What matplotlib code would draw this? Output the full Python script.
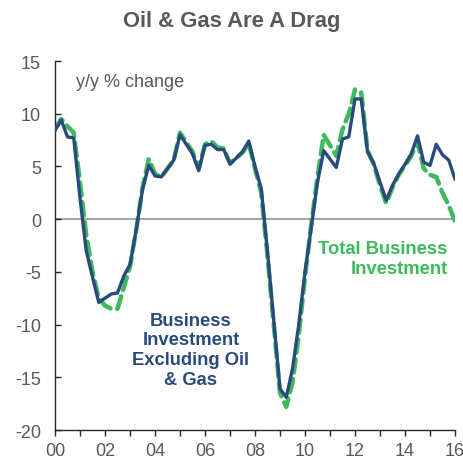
import matplotlib
matplotlib.use("Agg")
import matplotlib.pyplot as plt
import numpy as np

plt.rcParams['font.family'] = ['Liberation Sans', 'DejaVu Sans']

# Quarterly data, 2000Q1 .. 2016Q1
start_year = 2000
ex_oil_gas = [8.4, 9.4, 7.8, 7.7, 2.0, -3.0, -5.5, -7.9,
              -7.5, -7.1, -7.0, -5.4, -4.3, -1.0, 2.8, 5.1,
              4.1, 4.0, 4.8, 5.6, 8.0, 7.1, 6.2, 4.6,
              7.0, 7.1, 6.6, 6.6, 5.2, 5.8, 6.4, 7.4,
              5.0, 2.9, -3.1, -9.6, -16.1, -16.9, -14.2, -10.0,
              -5.0, -0.8, 3.5, 6.5, 5.7, 4.9, 7.6, 7.8,
              11.4, 11.4, 6.4, 5.3, 3.5, 1.8, 3.2, 4.3,
              5.2, 6.2, 7.9, 5.4, 5.1, 7.1, 6.1, 5.6, 3.8]
total = [8.6, 9.5, 8.8, 8.2, 3.5, -1.5, -5.0, -7.5,
         -8.2, -8.5, -8.5, -6.5, -4.5, -1.0, 3.0, 5.7,
         4.3, 4.0, 4.8, 5.6, 8.2, 7.3, 6.4, 4.8,
         7.1, 7.4, 6.8, 6.7, 5.3, 5.8, 6.3, 7.2,
         4.8, 2.5, -3.5, -10.0, -16.5, -17.8, -15.5, -11.0,
         -5.5, -0.5, 4.0, 8.0, 7.0, 6.0, 8.5, 10.0,
         12.3, 12.0, 6.5, 5.2, 3.2, 1.5, 3.0, 4.2,
         5.1, 6.0, 7.3, 4.8, 4.2, 4.0, 2.5, 1.3, -0.2]
x_ticklabels = ['00', '02', '04', '06', '08', '10', '12', '14', '16']
y_ticks = [15, 10, 5, 0, -5, -10, -15, -20]

navy = '#284b7c'
green = '#3cba5c'
grey = '#595959'

x = start_year + np.arange(len(total)) / 4.0

fig = plt.figure(figsize=(4.63, 4.60), dpi=100)
ax = fig.add_axes([55/463, 1 - 431/460, 400/463, (431 - 62)/460])

ax.axhline(0, color='#a6a6a6', lw=1.5, zorder=1)
ax.plot(x, total, color=green, lw=3.2, dashes=(3.0, 1.5), zorder=2,
        dash_capstyle='round')
ax.plot(x, ex_oil_gas, color=navy, lw=2.4, zorder=3)

ax.set_xlim(2000, 2016)
ax.set_ylim(-20, 15)
ax.set_xticks(np.arange(2000, 2017, 2))
ax.set_xticklabels(x_ticklabels)
ax.set_xticks(np.arange(2000, 2017, 1), minor=True)
ax.set_yticks(y_ticks)
ax.set_yticklabels([str(v) for v in y_ticks])

for s in ['top', 'right']:
    ax.spines[s].set_visible(False)
for s in ['left', 'bottom']:
    ax.spines[s].set_color('#262626')
    ax.spines[s].set_linewidth(1.0)

ax.tick_params(axis='x', which='both', direction='out', length=4, width=1,
               color='#262626', labelsize=13, labelcolor=grey, pad=5)
ax.tick_params(axis='y', which='both', direction='in', length=4, width=1,
               color='#262626', labelsize=13, labelcolor=grey, pad=10)

ax.text(2000.84, 13.1, 'y/y % change', color=grey, fontsize=13,
        ha='left', va='center')
ax.text(2005.44, -12.4, 'Business\nInvestment\nExcluding Oil\n& Gas', color=navy,
        fontsize=13.2, fontweight='bold', ha='center', va='center', linespacing=1.22)
ax.text(2015.7, -3.75, 'Total Business\nInvestment', color=green,
        fontsize=13.2, fontweight='bold', ha='right', va='center', linespacing=1.22)

fig.text(0.5, 1 - 21/460, 'Oil & Gas Are A Drag', color=grey, fontsize=15.8,
         fontweight='bold', ha='center', va='center')

fig.savefig('out.png', dpi=100)
